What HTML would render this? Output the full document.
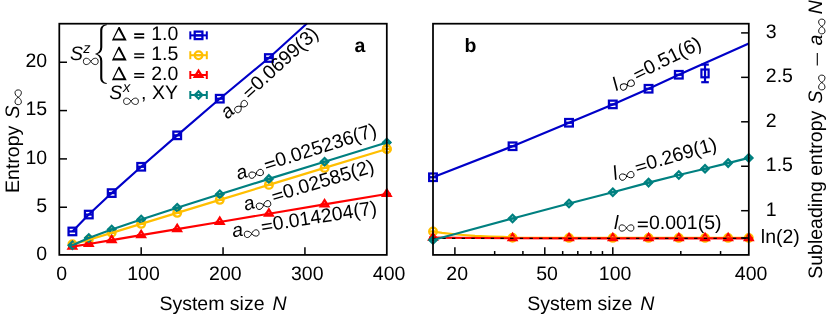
<!DOCTYPE html>
<html><head><meta charset="utf-8"><style>html,body{margin:0;padding:0;background:#fff;overflow:hidden}body{width:832px;height:319px;position:relative}</style></head><body><svg width="832" height="319" viewBox="0 0 832 319" style="position:absolute;left:0;top:0;will-change:transform;text-rendering:geometricPrecision;font-family:'Liberation Sans',sans-serif;font-size:19.5px">
<defs><clipPath id="ca"><rect x="59.3" y="23.7" width="327.5" height="231.20000000000002"/></clipPath><clipPath id="cb"><rect x="433.0" y="23.7" width="315.79999999999995" height="231.20000000000002"/></clipPath></defs>
<rect width="832" height="319" fill="#fff"/>
<g>
<rect x="68.55" y="227.69" width="7.7" height="7.5" fill="none" stroke="#0000c8" stroke-width="2.25"/>
<line x1="68.40" y1="231.44" x2="76.40" y2="231.44" stroke="#0000c8" stroke-width="2.25"/>
<rect x="84.93" y="210.81" width="7.7" height="7.5" fill="none" stroke="#0000c8" stroke-width="2.25"/>
<line x1="84.78" y1="214.56" x2="92.78" y2="214.56" stroke="#0000c8" stroke-width="2.25"/>
<rect x="107.85" y="189.34" width="7.7" height="7.5" fill="none" stroke="#0000c8" stroke-width="2.25"/>
<line x1="107.70" y1="193.09" x2="115.70" y2="193.09" stroke="#0000c8" stroke-width="2.25"/>
<rect x="137.33" y="163.02" width="7.7" height="7.5" fill="none" stroke="#0000c8" stroke-width="2.25"/>
<line x1="137.18" y1="166.77" x2="145.18" y2="166.77" stroke="#0000c8" stroke-width="2.25"/>
<rect x="173.35" y="131.59" width="7.7" height="7.5" fill="none" stroke="#0000c8" stroke-width="2.25"/>
<line x1="173.20" y1="135.34" x2="181.20" y2="135.34" stroke="#0000c8" stroke-width="2.25"/>
<rect x="215.92" y="94.94" width="7.7" height="7.5" fill="none" stroke="#0000c8" stroke-width="2.25"/>
<line x1="215.77" y1="98.69" x2="223.77" y2="98.69" stroke="#0000c8" stroke-width="2.25"/>
<rect x="265.05" y="54.26" width="7.7" height="7.5" fill="none" stroke="#0000c8" stroke-width="2.25"/>
<line x1="264.90" y1="58.01" x2="272.90" y2="58.01" stroke="#0000c8" stroke-width="2.25"/>
<circle cx="72.40" cy="244.15" r="3.85" fill="none" stroke="#ffbf00" stroke-width="2.25"/>
<line x1="68.40" y1="244.15" x2="76.40" y2="244.15" stroke="#ffbf00" stroke-width="2.25"/>
<circle cx="88.78" cy="239.84" r="3.85" fill="none" stroke="#ffbf00" stroke-width="2.25"/>
<line x1="84.78" y1="239.84" x2="92.78" y2="239.84" stroke="#ffbf00" stroke-width="2.25"/>
<circle cx="111.70" cy="232.85" r="3.85" fill="none" stroke="#ffbf00" stroke-width="2.25"/>
<line x1="107.70" y1="232.85" x2="115.70" y2="232.85" stroke="#ffbf00" stroke-width="2.25"/>
<circle cx="141.18" cy="223.86" r="3.85" fill="none" stroke="#ffbf00" stroke-width="2.25"/>
<line x1="137.18" y1="223.86" x2="145.18" y2="223.86" stroke="#ffbf00" stroke-width="2.25"/>
<circle cx="177.20" cy="212.87" r="3.85" fill="none" stroke="#ffbf00" stroke-width="2.25"/>
<line x1="173.20" y1="212.87" x2="181.20" y2="212.87" stroke="#ffbf00" stroke-width="2.25"/>
<circle cx="219.77" cy="199.87" r="3.85" fill="none" stroke="#ffbf00" stroke-width="2.25"/>
<line x1="215.77" y1="199.87" x2="223.77" y2="199.87" stroke="#ffbf00" stroke-width="2.25"/>
<circle cx="268.90" cy="184.88" r="3.85" fill="none" stroke="#ffbf00" stroke-width="2.25"/>
<line x1="264.90" y1="184.88" x2="272.90" y2="184.88" stroke="#ffbf00" stroke-width="2.25"/>
<circle cx="324.57" cy="167.89" r="3.85" fill="none" stroke="#ffbf00" stroke-width="2.25"/>
<line x1="320.57" y1="167.89" x2="328.57" y2="167.89" stroke="#ffbf00" stroke-width="2.25"/>
<circle cx="386.80" cy="148.91" r="3.85" fill="none" stroke="#ffbf00" stroke-width="2.25"/>
<line x1="382.80" y1="148.91" x2="390.80" y2="148.91" stroke="#ffbf00" stroke-width="2.25"/>
<polygon points="72.40,242.31 68.55,248.54 76.25,248.54" fill="none" stroke="#ff0000" stroke-width="2.25"/>
<line x1="68.40" y1="246.61" x2="76.40" y2="246.61" stroke="#ff0000" stroke-width="2.25"/>
<polygon points="88.78,239.64 84.93,245.87 92.62,245.87" fill="none" stroke="#ff0000" stroke-width="2.25"/>
<line x1="84.78" y1="243.94" x2="92.78" y2="243.94" stroke="#ff0000" stroke-width="2.25"/>
<polygon points="111.70,235.80 107.85,242.03 115.55,242.03" fill="none" stroke="#ff0000" stroke-width="2.25"/>
<line x1="107.70" y1="240.10" x2="115.70" y2="240.10" stroke="#ff0000" stroke-width="2.25"/>
<polygon points="141.18,230.86 137.33,237.09 145.03,237.09" fill="none" stroke="#ff0000" stroke-width="2.25"/>
<line x1="137.18" y1="235.16" x2="145.18" y2="235.16" stroke="#ff0000" stroke-width="2.25"/>
<polygon points="177.20,224.82 173.35,231.05 181.05,231.05" fill="none" stroke="#ff0000" stroke-width="2.25"/>
<line x1="173.20" y1="229.12" x2="181.20" y2="229.12" stroke="#ff0000" stroke-width="2.25"/>
<polygon points="219.77,217.68 215.92,223.91 223.62,223.91" fill="none" stroke="#ff0000" stroke-width="2.25"/>
<line x1="215.77" y1="221.98" x2="223.77" y2="221.98" stroke="#ff0000" stroke-width="2.25"/>
<polygon points="268.90,209.44 265.05,215.67 272.75,215.67" fill="none" stroke="#ff0000" stroke-width="2.25"/>
<line x1="264.90" y1="213.74" x2="272.90" y2="213.74" stroke="#ff0000" stroke-width="2.25"/>
<polygon points="324.57,200.11 320.72,206.34 328.43,206.34" fill="none" stroke="#ff0000" stroke-width="2.25"/>
<line x1="320.57" y1="204.41" x2="328.57" y2="204.41" stroke="#ff0000" stroke-width="2.25"/>
<polygon points="386.80,189.67 382.95,195.90 390.65,195.90" fill="none" stroke="#ff0000" stroke-width="2.25"/>
<line x1="382.80" y1="193.97" x2="390.80" y2="193.97" stroke="#ff0000" stroke-width="2.25"/>
<polygon points="72.40,241.47 76.10,245.17 72.40,248.87 68.70,245.17" fill="none" stroke="#008080" stroke-width="2.25"/>
<line x1="68.40" y1="245.17" x2="76.40" y2="245.17" stroke="#008080" stroke-width="2.25"/>
<polygon points="88.78,234.25 92.48,237.95 88.78,241.65 85.08,237.95" fill="none" stroke="#008080" stroke-width="2.25"/>
<line x1="84.78" y1="237.95" x2="92.78" y2="237.95" stroke="#008080" stroke-width="2.25"/>
<polygon points="111.70,225.79 115.40,229.49 111.70,233.19 108.00,229.49" fill="none" stroke="#008080" stroke-width="2.25"/>
<line x1="107.70" y1="229.49" x2="115.70" y2="229.49" stroke="#008080" stroke-width="2.25"/>
<polygon points="141.18,215.79 144.88,219.49 141.18,223.19 137.48,219.49" fill="none" stroke="#008080" stroke-width="2.25"/>
<line x1="137.18" y1="219.49" x2="145.18" y2="219.49" stroke="#008080" stroke-width="2.25"/>
<polygon points="177.20,204.01 180.90,207.71 177.20,211.41 173.50,207.71" fill="none" stroke="#008080" stroke-width="2.25"/>
<line x1="173.20" y1="207.71" x2="181.20" y2="207.71" stroke="#008080" stroke-width="2.25"/>
<polygon points="219.77,190.50 223.47,194.20 219.77,197.90 216.07,194.20" fill="none" stroke="#008080" stroke-width="2.25"/>
<line x1="215.77" y1="194.20" x2="223.77" y2="194.20" stroke="#008080" stroke-width="2.25"/>
<polygon points="268.90,175.18 272.60,178.88 268.90,182.58 265.20,178.88" fill="none" stroke="#008080" stroke-width="2.25"/>
<line x1="264.90" y1="178.88" x2="272.90" y2="178.88" stroke="#008080" stroke-width="2.25"/>
<polygon points="324.57,157.98 328.27,161.68 324.57,165.38 320.88,161.68" fill="none" stroke="#008080" stroke-width="2.25"/>
<line x1="320.57" y1="161.68" x2="328.57" y2="161.68" stroke="#008080" stroke-width="2.25"/>
<polygon points="386.80,138.88 390.50,142.58 386.80,146.28 383.10,142.58" fill="none" stroke="#008080" stroke-width="2.25"/>
<line x1="382.80" y1="142.58" x2="390.80" y2="142.58" stroke="#008080" stroke-width="2.25"/>
<circle cx="386.80" cy="148.91" r="3.85" fill="none" stroke="#ffbf00" stroke-width="2.25"/>
<line x1="382.80" y1="148.91" x2="390.80" y2="148.91" stroke="#ffbf00" stroke-width="2.25"/>
<polyline fill="none" stroke="#0000c8" stroke-width="2.15" stroke-linejoin="round" points="72.40,231.44 88.78,214.56 111.70,193.09 141.18,166.77 177.20,135.34 219.77,98.69 268.90,58.01 306.90,23.50" />
<polyline fill="none" stroke="#ffbf00" stroke-width="2.15" stroke-linejoin="round" points="72.40,244.15 88.78,239.84 111.70,232.85 141.18,223.86 177.20,212.87 219.77,199.87 268.90,184.88 324.57,167.89 386.80,148.91" />
<polyline fill="none" stroke="#ff0000" stroke-width="2.15" stroke-linejoin="round" points="72.40,246.61 88.78,243.94 111.70,240.10 141.18,235.16 177.20,229.12 219.77,221.98 268.90,213.74 324.57,204.41 386.80,193.97" />
<polyline fill="none" stroke="#008080" stroke-width="2.15" stroke-linejoin="round" points="72.40,245.17 88.78,237.95 111.70,229.49 141.18,219.49 177.20,207.71 219.77,194.20 268.90,178.88 324.57,161.68 386.80,142.58" />
</g>
<g>
<rect x="429.15" y="173.50" width="7.7" height="7.5" fill="none" stroke="#0000c8" stroke-width="2.25"/>
<line x1="429.00" y1="177.25" x2="437.00" y2="177.25" stroke="#0000c8" stroke-width="2.25"/>
<rect x="508.71" y="142.50" width="7.7" height="7.5" fill="none" stroke="#0000c8" stroke-width="2.25"/>
<line x1="508.56" y1="146.25" x2="516.56" y2="146.25" stroke="#0000c8" stroke-width="2.25"/>
<rect x="565.16" y="119.00" width="7.7" height="7.5" fill="none" stroke="#0000c8" stroke-width="2.25"/>
<line x1="565.01" y1="122.75" x2="573.01" y2="122.75" stroke="#0000c8" stroke-width="2.25"/>
<rect x="608.94" y="100.65" width="7.7" height="7.5" fill="none" stroke="#0000c8" stroke-width="2.25"/>
<line x1="608.79" y1="104.40" x2="616.79" y2="104.40" stroke="#0000c8" stroke-width="2.25"/>
<rect x="644.72" y="85.00" width="7.7" height="7.5" fill="none" stroke="#0000c8" stroke-width="2.25"/>
<line x1="644.57" y1="88.75" x2="652.57" y2="88.75" stroke="#0000c8" stroke-width="2.25"/>
<rect x="674.96" y="71.00" width="7.7" height="7.5" fill="none" stroke="#0000c8" stroke-width="2.25"/>
<line x1="674.81" y1="74.75" x2="682.81" y2="74.75" stroke="#0000c8" stroke-width="2.25"/>
<line x1="705.02" y1="64.6" x2="705.02" y2="82.2" stroke="#0000c8" stroke-width="2.2"/>
<line x1="701.22" y1="64.6" x2="708.82" y2="64.6" stroke="#0000c8" stroke-width="2.2"/>
<line x1="701.22" y1="82.2" x2="708.82" y2="82.2" stroke="#0000c8" stroke-width="2.2"/>
<rect x="701.42" y="69.50" width="7.2" height="7.8" fill="none" stroke="#0000c8" stroke-width="2.2"/>
<circle cx="433.00" cy="231.50" r="3.85" fill="none" stroke="#ffbf00" stroke-width="2.25"/>
<line x1="429.00" y1="231.50" x2="437.00" y2="231.50" stroke="#ffbf00" stroke-width="2.25"/>
<circle cx="512.56" cy="237.80" r="3.85" fill="none" stroke="#ffbf00" stroke-width="2.25"/>
<line x1="508.56" y1="237.80" x2="516.56" y2="237.80" stroke="#ffbf00" stroke-width="2.25"/>
<circle cx="569.01" cy="237.90" r="3.85" fill="none" stroke="#ffbf00" stroke-width="2.25"/>
<line x1="565.01" y1="237.90" x2="573.01" y2="237.90" stroke="#ffbf00" stroke-width="2.25"/>
<circle cx="612.79" cy="237.90" r="3.85" fill="none" stroke="#ffbf00" stroke-width="2.25"/>
<line x1="608.79" y1="237.90" x2="616.79" y2="237.90" stroke="#ffbf00" stroke-width="2.25"/>
<circle cx="648.57" cy="237.90" r="3.85" fill="none" stroke="#ffbf00" stroke-width="2.25"/>
<line x1="644.57" y1="237.90" x2="652.57" y2="237.90" stroke="#ffbf00" stroke-width="2.25"/>
<circle cx="678.81" cy="237.90" r="3.85" fill="none" stroke="#ffbf00" stroke-width="2.25"/>
<line x1="674.81" y1="237.90" x2="682.81" y2="237.90" stroke="#ffbf00" stroke-width="2.25"/>
<circle cx="705.02" cy="237.90" r="3.85" fill="none" stroke="#ffbf00" stroke-width="2.25"/>
<line x1="701.02" y1="237.90" x2="709.02" y2="237.90" stroke="#ffbf00" stroke-width="2.25"/>
<circle cx="728.13" cy="237.90" r="3.85" fill="none" stroke="#ffbf00" stroke-width="2.25"/>
<line x1="724.13" y1="237.90" x2="732.13" y2="237.90" stroke="#ffbf00" stroke-width="2.25"/>
<circle cx="748.80" cy="237.90" r="3.85" fill="none" stroke="#ffbf00" stroke-width="2.25"/>
<line x1="744.80" y1="237.90" x2="752.80" y2="237.90" stroke="#ffbf00" stroke-width="2.25"/>
<polygon points="433.00,233.30 429.15,239.53 436.85,239.53" fill="none" stroke="#ff0000" stroke-width="2.25"/>
<line x1="429.00" y1="237.60" x2="437.00" y2="237.60" stroke="#ff0000" stroke-width="2.25"/>
<polygon points="512.56,234.00 508.71,240.23 516.41,240.23" fill="none" stroke="#ff0000" stroke-width="2.25"/>
<line x1="508.56" y1="238.30" x2="516.56" y2="238.30" stroke="#ff0000" stroke-width="2.25"/>
<polygon points="569.01,234.00 565.16,240.23 572.86,240.23" fill="none" stroke="#ff0000" stroke-width="2.25"/>
<line x1="565.01" y1="238.30" x2="573.01" y2="238.30" stroke="#ff0000" stroke-width="2.25"/>
<polygon points="612.79,234.00 608.94,240.23 616.64,240.23" fill="none" stroke="#ff0000" stroke-width="2.25"/>
<line x1="608.79" y1="238.30" x2="616.79" y2="238.30" stroke="#ff0000" stroke-width="2.25"/>
<polygon points="648.57,234.00 644.72,240.23 652.42,240.23" fill="none" stroke="#ff0000" stroke-width="2.25"/>
<line x1="644.57" y1="238.30" x2="652.57" y2="238.30" stroke="#ff0000" stroke-width="2.25"/>
<polygon points="678.81,234.00 674.96,240.23 682.66,240.23" fill="none" stroke="#ff0000" stroke-width="2.25"/>
<line x1="674.81" y1="238.30" x2="682.81" y2="238.30" stroke="#ff0000" stroke-width="2.25"/>
<polygon points="705.02,234.00 701.17,240.23 708.87,240.23" fill="none" stroke="#ff0000" stroke-width="2.25"/>
<line x1="701.02" y1="238.30" x2="709.02" y2="238.30" stroke="#ff0000" stroke-width="2.25"/>
<polygon points="728.13,234.00 724.28,240.23 731.98,240.23" fill="none" stroke="#ff0000" stroke-width="2.25"/>
<line x1="724.13" y1="238.30" x2="732.13" y2="238.30" stroke="#ff0000" stroke-width="2.25"/>
<polygon points="748.80,234.00 744.95,240.23 752.65,240.23" fill="none" stroke="#ff0000" stroke-width="2.25"/>
<line x1="744.80" y1="238.30" x2="752.80" y2="238.30" stroke="#ff0000" stroke-width="2.25"/>
<polygon points="433.00,236.30 436.70,240.00 433.00,243.70 429.30,240.00" fill="none" stroke="#008080" stroke-width="2.25"/>
<line x1="429.00" y1="240.00" x2="437.00" y2="240.00" stroke="#008080" stroke-width="2.25"/>
<polygon points="512.56,214.80 516.26,218.50 512.56,222.20 508.86,218.50" fill="none" stroke="#008080" stroke-width="2.25"/>
<line x1="508.56" y1="218.50" x2="516.56" y2="218.50" stroke="#008080" stroke-width="2.25"/>
<polygon points="569.01,199.80 572.71,203.50 569.01,207.20 565.31,203.50" fill="none" stroke="#008080" stroke-width="2.25"/>
<line x1="565.01" y1="203.50" x2="573.01" y2="203.50" stroke="#008080" stroke-width="2.25"/>
<polygon points="612.79,188.55 616.49,192.25 612.79,195.95 609.09,192.25" fill="none" stroke="#008080" stroke-width="2.25"/>
<line x1="608.79" y1="192.25" x2="616.79" y2="192.25" stroke="#008080" stroke-width="2.25"/>
<polygon points="648.57,178.90 652.27,182.60 648.57,186.30 644.87,182.60" fill="none" stroke="#008080" stroke-width="2.25"/>
<line x1="644.57" y1="182.60" x2="652.57" y2="182.60" stroke="#008080" stroke-width="2.25"/>
<polygon points="678.81,171.30 682.51,175.00 678.81,178.70 675.11,175.00" fill="none" stroke="#008080" stroke-width="2.25"/>
<line x1="674.81" y1="175.00" x2="682.81" y2="175.00" stroke="#008080" stroke-width="2.25"/>
<polygon points="705.02,165.00 708.72,168.70 705.02,172.40 701.32,168.70" fill="none" stroke="#008080" stroke-width="2.25"/>
<line x1="701.02" y1="168.70" x2="709.02" y2="168.70" stroke="#008080" stroke-width="2.25"/>
<polygon points="728.13,159.40 731.83,163.10 728.13,166.80 724.43,163.10" fill="none" stroke="#008080" stroke-width="2.25"/>
<line x1="724.13" y1="163.10" x2="732.13" y2="163.10" stroke="#008080" stroke-width="2.25"/>
<polygon points="748.80,154.20 752.50,157.90 748.80,161.60 745.10,157.90" fill="none" stroke="#008080" stroke-width="2.25"/>
<line x1="744.80" y1="157.90" x2="752.80" y2="157.90" stroke="#008080" stroke-width="2.25"/>
<polyline fill="none" stroke="#0000c8" stroke-width="2.15" stroke-linejoin="round" points="433.00,177.25 512.56,146.25 569.01,122.75 612.79,104.40 648.57,88.75 678.81,74.75 748.80,43.60" />
<polyline fill="none" stroke="#ffbf00" stroke-width="2.15" stroke-linejoin="round" points="433.00,231.50 442.00,232.90 452.40,234.00 463.00,235.00 474.90,235.90 490.00,236.50 503.00,236.90 512.50,237.60 569.01,237.90 612.79,237.90 648.57,237.90 678.81,237.90 705.02,237.90 728.13,237.90 748.80,237.90" />
<polyline fill="none" stroke="#ff0000" stroke-width="2.15" stroke-linejoin="round" points="433.00,237.60 512.56,238.30 569.01,238.30 612.79,238.30 648.57,238.30 678.81,238.30 705.02,238.30 728.13,238.30 748.80,238.30" />
<line x1="433.00" y1="238.35" x2="748.80" y2="238.35" stroke="#000" stroke-width="1.4" stroke-dasharray="3.4 6.285" stroke-dashoffset="0.4"/>
<polyline fill="none" stroke="#008080" stroke-width="2.15" stroke-linejoin="round" points="433.00,240.00 512.56,218.50 569.01,203.50 612.79,192.25 648.57,182.60 678.81,175.00 705.02,168.70 728.13,163.10 748.80,157.90" />
</g>
<rect x="59.3" y="23.7" width="327.5" height="231.20000000000002" fill="none" stroke="#000" stroke-width="1.75"/>
<rect x="433.0" y="23.7" width="315.79999999999995" height="231.20000000000002" fill="none" stroke="#000" stroke-width="1.75"/>
<line x1="141.18" y1="254.90" x2="141.18" y2="247.20" stroke="#000" stroke-width="1.5"/>
<line x1="223.05" y1="254.90" x2="223.05" y2="247.20" stroke="#000" stroke-width="1.5"/>
<line x1="304.93" y1="254.90" x2="304.93" y2="247.20" stroke="#000" stroke-width="1.5"/>
<line x1="59.30" y1="207.23" x2="67.00" y2="207.23" stroke="#000" stroke-width="1.5"/>
<line x1="59.30" y1="158.90" x2="67.00" y2="158.90" stroke="#000" stroke-width="1.5"/>
<line x1="59.30" y1="110.58" x2="67.00" y2="110.58" stroke="#000" stroke-width="1.5"/>
<line x1="59.30" y1="62.25" x2="67.00" y2="62.25" stroke="#000" stroke-width="1.5"/>
<line x1="454.89" y1="254.90" x2="454.89" y2="247.20" stroke="#000" stroke-width="1.5"/>
<line x1="544.79" y1="254.90" x2="544.79" y2="247.20" stroke="#000" stroke-width="1.5"/>
<line x1="612.79" y1="254.90" x2="612.79" y2="247.20" stroke="#000" stroke-width="1.5"/>
<line x1="494.67" y1="254.90" x2="494.67" y2="251.05" stroke="#000" stroke-width="1.5"/>
<line x1="522.90" y1="254.90" x2="522.90" y2="251.05" stroke="#000" stroke-width="1.5"/>
<line x1="562.68" y1="254.90" x2="562.68" y2="251.05" stroke="#000" stroke-width="1.5"/>
<line x1="577.80" y1="254.90" x2="577.80" y2="251.05" stroke="#000" stroke-width="1.5"/>
<line x1="590.90" y1="254.90" x2="590.90" y2="251.05" stroke="#000" stroke-width="1.5"/>
<line x1="602.46" y1="254.90" x2="602.46" y2="251.05" stroke="#000" stroke-width="1.5"/>
<line x1="680.80" y1="254.90" x2="680.80" y2="251.05" stroke="#000" stroke-width="1.5"/>
<line x1="720.58" y1="254.90" x2="720.58" y2="251.05" stroke="#000" stroke-width="1.5"/>
<line x1="748.80" y1="210.70" x2="741.10" y2="210.70" stroke="#000" stroke-width="1.5"/>
<line x1="748.80" y1="166.25" x2="741.10" y2="166.25" stroke="#000" stroke-width="1.5"/>
<line x1="748.80" y1="121.80" x2="741.10" y2="121.80" stroke="#000" stroke-width="1.5"/>
<line x1="748.80" y1="77.35" x2="741.10" y2="77.35" stroke="#000" stroke-width="1.5"/>
<line x1="748.80" y1="32.90" x2="741.10" y2="32.90" stroke="#000" stroke-width="1.5"/>
<line x1="748.80" y1="237.98" x2="741.10" y2="237.98" stroke="#000" stroke-width="1.5"/>
<text x="61.60" y="280.00" text-anchor="middle" >0</text>
<text x="143.48" y="280.00" text-anchor="middle" >100</text>
<text x="225.35" y="280.00" text-anchor="middle" >200</text>
<text x="307.23" y="280.00" text-anchor="middle" >300</text>
<text x="389.10" y="280.00" text-anchor="middle" >400</text>
<text x="47.20" y="260.35" text-anchor="end" >0</text>
<text x="47.20" y="212.03" text-anchor="end" >5</text>
<text x="47.20" y="163.70" text-anchor="end" >10</text>
<text x="47.20" y="115.38" text-anchor="end" >15</text>
<text x="47.20" y="67.05" text-anchor="end" >20</text>
<text x="457.19" y="280.00" text-anchor="middle" >20</text>
<text x="547.09" y="280.00" text-anchor="middle" >50</text>
<text x="615.09" y="280.00" text-anchor="middle" >100</text>
<text x="751.10" y="280.00" text-anchor="middle" >400</text>
<text x="765.80" y="215.50" text-anchor="start" >1</text>
<text x="765.80" y="171.05" text-anchor="start" >1.5</text>
<text x="765.80" y="126.60" text-anchor="start" >2</text>
<text x="765.80" y="82.15" text-anchor="start" >2.5</text>
<text x="765.80" y="37.70" text-anchor="start" >3</text>
<text x="760.80" y="242.78" text-anchor="start" >ln(2)</text>
<text x="159.40" y="310.20" text-anchor="start" >System size</text>
<text x="272.40" y="310.20" text-anchor="start" font-style="italic">N</text>
<text x="527.20" y="310.20" text-anchor="start" >System size</text>
<text x="640.20" y="310.20" text-anchor="start" font-style="italic">N</text>
<text x="360.00" y="52.00" text-anchor="middle" font-weight="bold">a</text>
<text x="470.50" y="52.00" text-anchor="middle" font-weight="bold">b</text>
<g transform="translate(18.8,0) rotate(-90)">
<text x="-192.90" y="0.00" text-anchor="start" >Entropy</text>
<text x="-118.50" y="0.00" text-anchor="start" font-style="italic">S</text>
<path d="M-97.30,-0.60 C-95.00,-4.76 -89.90,-4.92 -89.90,-0.60 C-89.90,3.72 -95.00,3.56 -97.30,-0.60 C-99.60,-4.76 -104.70,-4.92 -104.70,-0.60 C-104.70,3.72 -99.60,3.56 -97.30,-0.60 Z" fill="none" stroke="#000" stroke-width="0.9"/>
</g>
<g transform="translate(822.4,0) rotate(-90)">
<text x="-278.80" y="0.00" text-anchor="start" >Subleading entropy</text>
<text x="-103.50" y="0.00" text-anchor="start" font-style="italic">S</text>
<path d="M-82.50,-0.60 C-80.20,-4.76 -75.10,-4.92 -75.10,-0.60 C-75.10,3.72 -80.20,3.56 -82.50,-0.60 C-84.80,-4.76 -89.90,-4.92 -89.90,-0.60 C-89.90,3.72 -84.80,3.56 -82.50,-0.60 Z" fill="none" stroke="#000" stroke-width="0.9"/>
<line x1="-65.6" y1="-5.1" x2="-53.1" y2="-5.1" stroke="#000" stroke-width="1.1"/>
<text x="-45.50" y="0.00" text-anchor="start" font-style="italic">a</text>
<path d="M-26.50,-0.60 C-24.20,-4.76 -19.10,-4.92 -19.10,-0.60 C-19.10,3.72 -24.20,3.56 -26.50,-0.60 C-28.80,-4.76 -33.90,-4.92 -33.90,-0.60 C-33.90,3.72 -28.80,3.56 -26.50,-0.60 Z" fill="none" stroke="#000" stroke-width="0.9"/>
<text x="-14.20" y="0.00" text-anchor="start" font-style="italic">N</text>
</g>
<g transform="translate(227,119.3) rotate(-42.2)">
<text x="0.00" y="0.60" text-anchor="start" font-style="italic">a</text>
<path d="M19.00,0.00 C21.30,-4.16 26.40,-4.32 26.40,0.00 C26.40,4.32 21.30,4.16 19.00,0.00 C16.70,-4.16 11.60,-4.32 11.60,0.00 C11.60,4.32 16.70,4.16 19.00,0.00 Z" fill="none" stroke="#000" stroke-width="0.9"/>
<path d="M30.30,-7.00 h10.00 M30.30,-2.70 h10.00" stroke="#000" stroke-width="1.35" fill="none"/>
<text x="41.40" y="0.00" text-anchor="start" >0.0699(3)</text>
</g>
<g transform="translate(238,179.5) rotate(-17.4)">
<text x="0.00" y="0.60" text-anchor="start" font-style="italic">a</text>
<path d="M19.00,0.00 C21.30,-4.16 26.40,-4.32 26.40,0.00 C26.40,4.32 21.30,4.16 19.00,0.00 C16.70,-4.16 11.60,-4.32 11.60,0.00 C11.60,4.32 16.70,4.16 19.00,0.00 Z" fill="none" stroke="#000" stroke-width="0.9"/>
<path d="M30.30,-7.00 h10.00 M30.30,-2.70 h10.00" stroke="#000" stroke-width="1.35" fill="none"/>
<text x="41.40" y="0.00" text-anchor="start" >0.025236(7)</text>
</g>
<g transform="translate(245.3,210.4) rotate(-16.5)">
<text x="0.00" y="0.60" text-anchor="start" font-style="italic">a</text>
<path d="M19.00,0.00 C21.30,-4.16 26.40,-4.32 26.40,0.00 C26.40,4.32 21.30,4.16 19.00,0.00 C16.70,-4.16 11.60,-4.32 11.60,0.00 C11.60,4.32 16.70,4.16 19.00,0.00 Z" fill="none" stroke="#000" stroke-width="0.9"/>
<path d="M30.30,-7.00 h10.00 M30.30,-2.70 h10.00" stroke="#000" stroke-width="1.35" fill="none"/>
<text x="41.40" y="0.00" text-anchor="start" >0.02585(2)</text>
</g>
<g transform="translate(232.9,236.6) rotate(-8.9)">
<text x="0.00" y="0.60" text-anchor="start" font-style="italic">a</text>
<path d="M19.00,0.00 C21.30,-4.16 26.40,-4.32 26.40,0.00 C26.40,4.32 21.30,4.16 19.00,0.00 C16.70,-4.16 11.60,-4.32 11.60,0.00 C11.60,4.32 16.70,4.16 19.00,0.00 Z" fill="none" stroke="#000" stroke-width="0.9"/>
<path d="M30.30,-7.00 h10.00 M30.30,-2.70 h10.00" stroke="#000" stroke-width="1.35" fill="none"/>
<text x="41.40" y="0.00" text-anchor="start" >0.014204(7)</text>
</g>
<g transform="translate(616.1,90.6) rotate(-26.2)">
<text x="0.00" y="0.60" text-anchor="start" font-style="italic">l</text>
<path d="M12.50,0.00 C14.80,-4.16 19.90,-4.32 19.90,0.00 C19.90,4.32 14.80,4.16 12.50,0.00 C10.20,-4.16 5.10,-4.32 5.10,0.00 C5.10,4.32 10.20,4.16 12.50,0.00 Z" fill="none" stroke="#000" stroke-width="0.9"/>
<path d="M23.80,-7.00 h10.00 M23.80,-2.70 h10.00" stroke="#000" stroke-width="1.35" fill="none"/>
<text x="34.90" y="0.00" text-anchor="start" >0.51(6)</text>
</g>
<g transform="translate(614.7,179.3) rotate(-15.9)">
<text x="0.00" y="0.60" text-anchor="start" font-style="italic">l</text>
<path d="M12.50,0.00 C14.80,-4.16 19.90,-4.32 19.90,0.00 C19.90,4.32 14.80,4.16 12.50,0.00 C10.20,-4.16 5.10,-4.32 5.10,0.00 C5.10,4.32 10.20,4.16 12.50,0.00 Z" fill="none" stroke="#000" stroke-width="0.9"/>
<path d="M23.80,-7.00 h10.00 M23.80,-2.70 h10.00" stroke="#000" stroke-width="1.35" fill="none"/>
<text x="34.90" y="0.00" text-anchor="start" >0.269(1)</text>
</g>
<g transform="translate(614.0,228.6) rotate(0)">
<text x="0.00" y="0.00" text-anchor="start" font-style="italic">l</text>
<path d="M12.50,-0.60 C14.80,-4.76 19.90,-4.92 19.90,-0.60 C19.90,3.72 14.80,3.56 12.50,-0.60 C10.20,-4.76 5.10,-4.92 5.10,-0.60 C5.10,3.72 10.20,3.56 12.50,-0.60 Z" fill="none" stroke="#000" stroke-width="0.9"/>
<path d="M23.80,-6.40 h10.00 M23.80,-2.10 h10.00" stroke="#000" stroke-width="1.35" fill="none"/>
<text x="34.90" y="0.00" text-anchor="start" >0.001(5)</text>
</g>
<line x1="190.3" y1="35.35" x2="206.8" y2="35.35" stroke="#0000c8" stroke-width="2"/>
<line x1="190.3" y1="31.35" x2="190.3" y2="39.35" stroke="#0000c8" stroke-width="2"/>
<line x1="206.8" y1="31.35" x2="206.8" y2="39.35" stroke="#0000c8" stroke-width="2"/>
<rect x="194.70" y="31.60" width="7.7" height="7.5" fill="none" stroke="#0000c8" stroke-width="2.25"/>
<line x1="194.55" y1="35.35" x2="202.55" y2="35.35" stroke="#0000c8" stroke-width="2.25"/>
<line x1="190.3" y1="55.2" x2="206.8" y2="55.2" stroke="#ffbf00" stroke-width="2"/>
<line x1="190.3" y1="51.2" x2="190.3" y2="59.2" stroke="#ffbf00" stroke-width="2"/>
<line x1="206.8" y1="51.2" x2="206.8" y2="59.2" stroke="#ffbf00" stroke-width="2"/>
<circle cx="198.55" cy="55.20" r="3.85" fill="none" stroke="#ffbf00" stroke-width="2.25"/>
<line x1="194.55" y1="55.20" x2="202.55" y2="55.20" stroke="#ffbf00" stroke-width="2.25"/>
<line x1="190.3" y1="75.0" x2="206.8" y2="75.0" stroke="#ff0000" stroke-width="2"/>
<line x1="190.3" y1="71.0" x2="190.3" y2="79.0" stroke="#ff0000" stroke-width="2"/>
<line x1="206.8" y1="71.0" x2="206.8" y2="79.0" stroke="#ff0000" stroke-width="2"/>
<polygon points="198.55,70.70 194.70,76.93 202.40,76.93" fill="none" stroke="#ff0000" stroke-width="2.25"/>
<line x1="194.55" y1="75.00" x2="202.55" y2="75.00" stroke="#ff0000" stroke-width="2.25"/>
<line x1="190.3" y1="95.0" x2="206.8" y2="95.0" stroke="#008080" stroke-width="2"/>
<line x1="190.3" y1="91.0" x2="190.3" y2="99.0" stroke="#008080" stroke-width="2"/>
<line x1="206.8" y1="91.0" x2="206.8" y2="99.0" stroke="#008080" stroke-width="2"/>
<polygon points="198.55,91.30 202.25,95.00 198.55,98.70 194.85,95.00" fill="none" stroke="#008080" stroke-width="2.25"/>
<line x1="194.55" y1="95.00" x2="202.55" y2="95.00" stroke="#008080" stroke-width="2.25"/>
<path d="M111.9,40.60 L118.5,27.00 L119.7,27.00 L126.7,40.60 Z M114.06,38.50 L123.55,38.50 L118.65,29.70 Z" fill="#000" fill-rule="evenodd"/>
<path d="M134.20,34.15 h10.00 M134.20,37.65 h10.00" stroke="#000" stroke-width="1.6" fill="none"/>
<text x="151.20" y="40.25" text-anchor="start" >1.0</text>
<path d="M111.9,60.45 L118.5,46.85 L119.7,46.85 L126.7,60.45 Z M114.06,58.35 L123.55,58.35 L118.65,49.55 Z" fill="#000" fill-rule="evenodd"/>
<path d="M134.20,54.00 h10.00 M134.20,57.50 h10.00" stroke="#000" stroke-width="1.6" fill="none"/>
<text x="151.20" y="60.10" text-anchor="start" >1.5</text>
<path d="M111.9,80.25 L118.5,66.65 L119.7,66.65 L126.7,80.25 Z M114.06,78.15 L123.55,78.15 L118.65,69.35 Z" fill="#000" fill-rule="evenodd"/>
<path d="M134.20,73.80 h10.00 M134.20,77.30 h10.00" stroke="#000" stroke-width="1.6" fill="none"/>
<text x="151.20" y="79.90" text-anchor="start" >2.0</text>
<path d="M106.7,24.3 C103,24.5 100.2,26.5 100.2,30.5 L100.2,47.3 C100.2,50.8 98.5,53.1 94.9,54.1 C98.5,55.1 100.2,57.4 100.2,60.9 L100.2,77.7 C100.2,81.7 103,83.7 106.7,83.9 L106.7,82.9 C103.8,82.6 102.3,80.7 102.3,77.7 L102.3,60.9 C102.3,57.4 100.5,54.9 97.3,54.1 C100.5,53.3 102.3,50.8 102.3,47.3 L102.3,30.5 C102.3,27.5 103.8,25.6 106.7,25.3 Z" fill="#000"/>
<text x="70.00" y="59.50" text-anchor="start" ><tspan font-style="italic">S</tspan></text>
<text x="83.30" y="52.50" text-anchor="start" ><tspan font-style="italic" font-size="14.5">z</tspan></text>
<path d="M90.80,61.40 C93.10,57.24 98.20,57.08 98.20,61.40 C98.20,65.72 93.10,65.56 90.80,61.40 C88.50,57.24 83.40,57.08 83.40,61.40 C83.40,65.72 88.50,65.56 90.80,61.40 Z" fill="none" stroke="#000" stroke-width="0.9"/>
<text x="109.30" y="99.40" text-anchor="start" ><tspan font-style="italic">S</tspan></text>
<text x="123.00" y="92.40" text-anchor="start" ><tspan font-style="italic" font-size="14.5">x</tspan></text>
<path d="M131.00,101.30 C133.30,97.14 138.40,96.98 138.40,101.30 C138.40,105.62 133.30,105.46 131.00,101.30 C128.70,97.14 123.60,96.98 123.60,101.30 C123.60,105.62 128.70,105.46 131.00,101.30 Z" fill="none" stroke="#000" stroke-width="0.9"/>
<text x="141.00" y="99.40" text-anchor="start" >,</text>
<text x="152.00" y="99.40" text-anchor="start" >XY</text>
</svg></body></html>
